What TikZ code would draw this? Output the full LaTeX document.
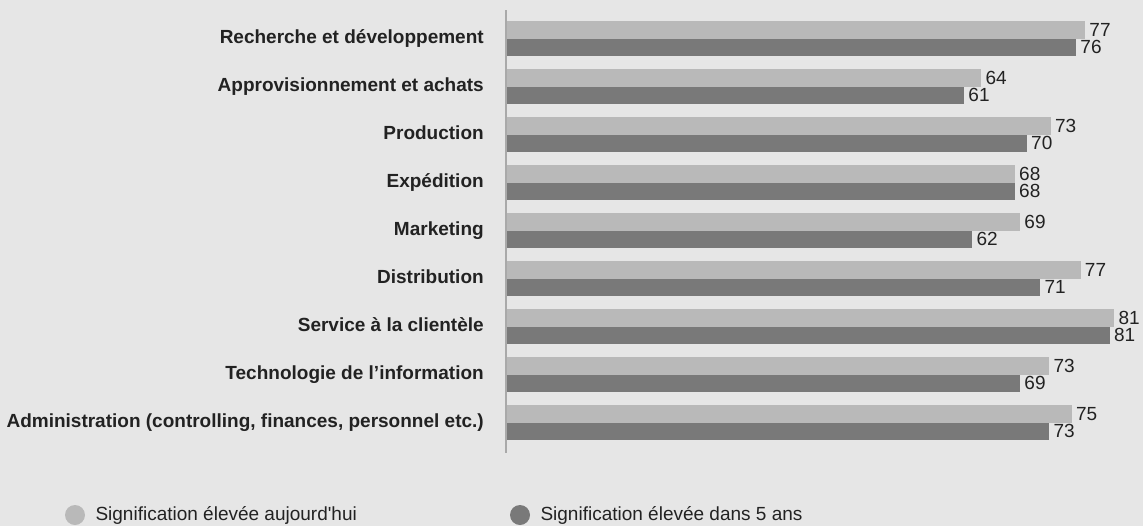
\documentclass[tikz,border=0pt]{standalone}
\usepackage{fontspec}
\setmainfont{Liberation Sans}[Ligatures=TeXOff]
\usetikzlibrary{positioning}
\definecolor{chartbg}{HTML}{E6E6E6}
\definecolor{todaybar}{HTML}{B9B9B9}
\definecolor{futurebar}{HTML}{797979}
\definecolor{axisgrey}{HTML}{A9A9A9}
\definecolor{inkgrey}{HTML}{222222}
\tikzset{
	catlabel/.style={
		anchor=base east,
		inner sep=0pt,
		font=\fontsize{14.25}{17}\selectfont\bfseries,
		text=inkgrey},
	vallabel/.style={
		anchor=west,
		inner sep=0pt,
		xshift=3pt,
		font=\fontsize{14.25}{17}\selectfont,
		text=inkgrey},
	legdot/.style={circle, inner sep=0pt, minimum size=15pt},
	legtext/.style={
		inner sep=0pt,
		text height=10.6pt, text depth=2pt,
		font=\fontsize{14.25}{17}\selectfont,
		text=inkgrey},
	axisline/.style={draw=axisgrey, line width=1.5pt},
}

\begin{document}
\begin{tikzpicture}[x=0.75pt, y=-0.75pt]
	
	% background, fixes the page
	\fill[chartbg] (0,0) rectangle (1143,526);
	\useasboundingbox (0,0) rectangle (1143,526);
	
	\draw[axisline] (506,10) -- (506,453);
	
	\foreach \i/\cat/\a/\av/\b/\bv in {
		0/{Recherche et développement}/77.4/77/76.2/76,
		1/{Approvisionnement et achats}/63.5/64/61.2/61,
		2/{Production}/72.8/73/69.6/70,
		3/{Expédition}/68.0/68/68.0/68,
		4/{Marketing}/68.7/69/62.3/62,
		5/{Distribution}/76.8/77/71.4/71,
		6/{Service à la clientèle}/81.3/81/80.7/81,
		7/{Technologie de l’information}/72.6/73/68.7/69,
		8/{Administration (controlling, finances, personnel etc.)}/75.6/75/72.6/73}
	{
		\fill[todaybar] (507,{21+48*\i}) rectangle ({507+7.47*\a},{38.5+48*\i});
		\fill[futurebar] (507,{38.5+48*\i}) rectangle ({507+7.47*\b},{55.5+48*\i});
		\node[catlabel] (cat\i) at (484,{43.5+48*\i}) {\cat};
		\node[vallabel] (today\i) at ({507+7.47*\a},{29.75+48*\i}) {\av};
		\node[vallabel] (future\i) at ({507+7.47*\b},{47+48*\i}) {\bv};
	}
	
	% legend
	\node[legdot, fill=todaybar] (dottoday) at (75,515) {};
	\node[legtext, right=7.5pt of dottoday] (legtoday) {Signification élevée aujourd'hui};
	\node[legdot, fill=futurebar] (dotfuture) at (520,515) {};
	\node[legtext, right=7.5pt of dotfuture] (legfuture) {Signification élevée dans 5 ans};
	
\end{tikzpicture}
\end{document}
